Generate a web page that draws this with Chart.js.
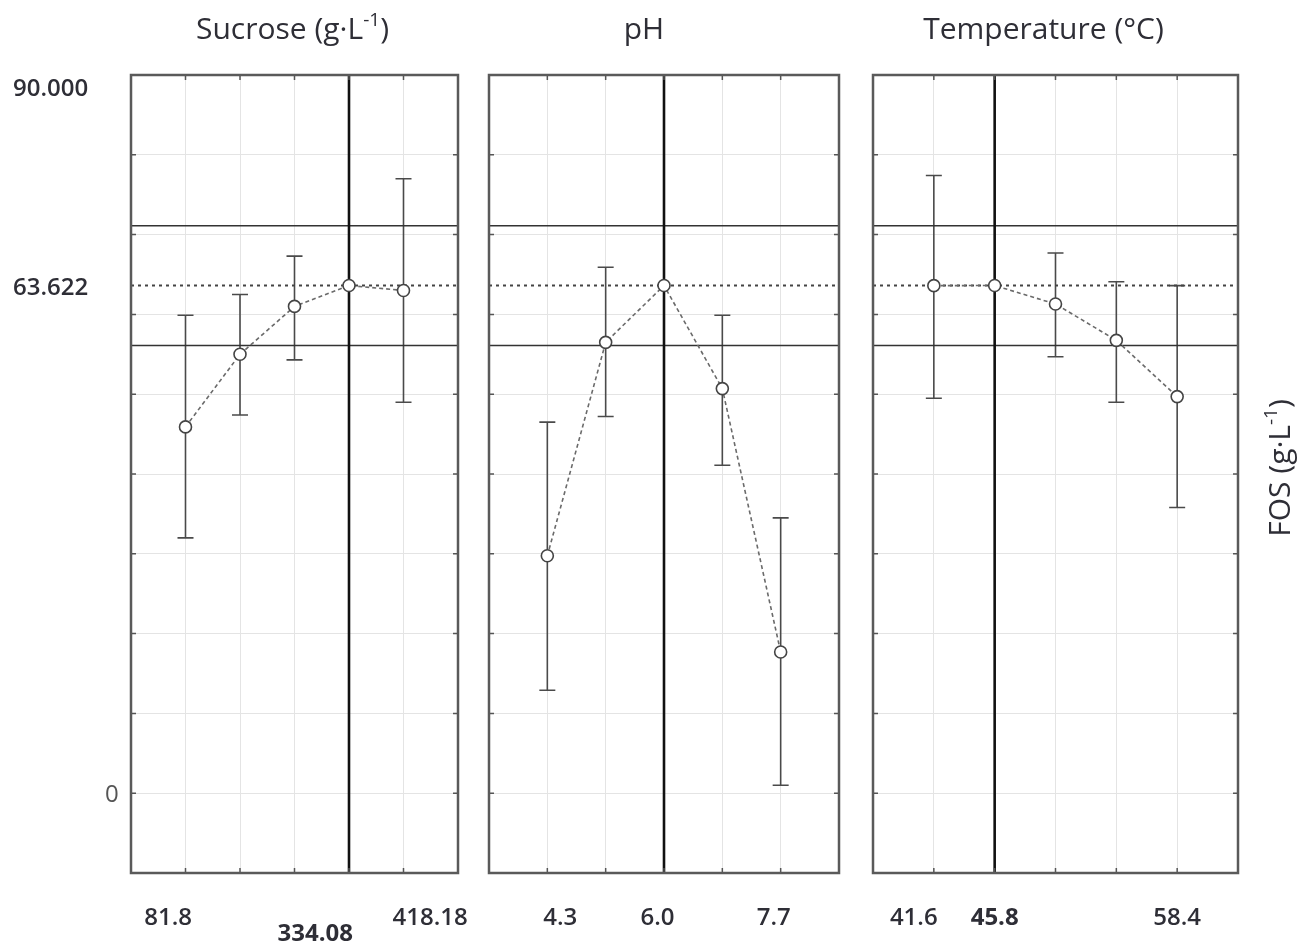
<!DOCTYPE html>
<html>
<head>
<meta charset="utf-8">
<script src="https://cdn.jsdelivr.net/npm/chart.js@4.4.1/dist/chart.umd.min.js"></script>
<style>
  body { margin: 0; background: #fff; }
  #wrap { position: relative; width: 1304px; height: 945px; }
  #wrap canvas { position: absolute; left: 0; top: 0; }
</style>
</head>
<body>
<div id="wrap">
  <canvas id="sucroseChart" width="1304" height="945"></canvas>
  <canvas id="phChart" width="1304" height="945"></canvas>
  <canvas id="tempChart" width="1304" height="945"></canvas>
</div>
<script>
// factor levels (5 per panel)
const levels = [1, 2, 3, 4, 5];

const sucroseMean = [45.9, 55.0, 61.0, 63.622, 63.0];
const sucroseLow = [32.0, 47.4, 54.3, null, 49.0];
const sucroseHigh = [59.9, 62.5, 67.3, null, 77.0];
const sucroseTicks = ['81.8', '334.08', '418.18'];
const sucroseTickAt = [0.68, 3.38, 5.49];
const sucroseTickBold = [false, true, false];
const sucroseOptimum = 4;

const phMean = [29.75, 56.5, 63.622, 50.7, 17.7];
const phLow = [12.9, 47.2, null, 41.1, 1.0];
const phHigh = [46.5, 65.9, null, 59.9, 34.5];
const phTicks = ['4.3', '6.0', '7.7'];
const phTickAt = [1.22, 2.89, 4.88];
const phTickBold = [false, false, false];
const phOptimum = 3;

const tempMean = [63.6, 63.622, 61.3, 56.75, 49.7];
const tempLow = [49.5, null, 54.7, 49.0, 35.8];
const tempHigh = [77.4, null, 67.7, 64.1, 63.6];
const tempTicks = ['41.6', '45.8', '58.4'];
const tempTickAt = [0.67, 2.0, 5.0];
const tempTickBold = [false, true, false];
const tempOptimum = 2;

// predicted optimum and its confidence band
const fosOptimum = 63.622;
const fosUpper = 71.1;
const fosLower = 56.1;
const yLabelValues = [90, 63.622, 0];
const yLabelText = ['90.000', '63.622', '0'];

// layout
const W = 1304, H = 945;
const plotTop = 75, plotBottom = 873;
const FONT = '"Open Sans", "DejaVu Sans", sans-serif';
const TEXT = '#2e2e36';

// draws "text^{sup}" with a small raised part
const drawRichText = (ctx, str, x, y, size, align) => {
  const parts = [];
  str.split(/(\^\{[^}]*\})/).forEach((p) => {
    if (!p) return;
    if (p.startsWith('^{')) parts.push({ t: p.slice(2, -1), sup: true });
    else parts.push({ t: p, sup: false });
  });
  const fontFor = (p) => `${p.sup ? Math.round(size * 0.62) : size}px ${FONT}`;
  let total = 0;
  parts.forEach((p) => {
    ctx.font = fontFor(p);
    p.w = ctx.measureText(p.t).width;
    total += p.w;
  });
  let cx = align === 'center' ? x - total / 2 : x;
  ctx.textAlign = 'left';
  ctx.textBaseline = 'middle';
  parts.forEach((p) => {
    ctx.font = fontFor(p);
    ctx.fillText(p.t, cx, p.sup ? y - size * 0.3 : y);
    cx += p.w;
  });
};

const makePanel = (canvasId, box, cfg) => {
  const decor = {
    id: 'panelDecor',
    beforeDatasetsDraw: (chart) => {
      // error bars
      const { ctx } = chart;
      const xs = chart.scales.x, ys = chart.scales.y;
      ctx.save();
      ctx.strokeStyle = '#4a4a4a';
      ctx.lineWidth = 1.6;
      levels.forEach((lv, i) => {
        if (cfg.low[i] == null) return;
        const x = xs.getPixelForValue(lv);
        const y1 = ys.getPixelForValue(cfg.low[i]);
        const y2 = ys.getPixelForValue(cfg.high[i]);
        ctx.beginPath();
        ctx.moveTo(x, y1); ctx.lineTo(x, y2);
        ctx.moveTo(x - 8, y1); ctx.lineTo(x + 8, y1);
        ctx.moveTo(x - 8, y2); ctx.lineTo(x + 8, y2);
        ctx.stroke();
      });
      ctx.restore();
    },
    afterDatasetsDraw: (chart) => {
      const { ctx, chartArea: a } = chart;
      const xs = chart.scales.x, ys = chart.scales.y;
      ctx.save();
      ctx.strokeStyle = '#555';
      ctx.lineWidth = 1.5;
      ctx.beginPath();
      for (let v = 1; v < 6; v++) {
        const x = xs.getPixelForValue(v);
        ctx.moveTo(x, a.top); ctx.lineTo(x, a.top + 5);
        ctx.moveTo(x, a.bottom); ctx.lineTo(x, a.bottom - 5);
      }
      for (let v = 0; v < 90; v += 10) {
        const y = ys.getPixelForValue(v);
        ctx.moveTo(a.left, y); ctx.lineTo(a.left + 5, y);
        ctx.moveTo(a.right, y); ctx.lineTo(a.right - 5, y);
      }
      ctx.stroke();
      ctx.lineWidth = 2.5;
      ctx.strokeStyle = '#5a5a5a';
      ctx.strokeRect(a.left, a.top, a.right - a.left, a.bottom - a.top);
      ctx.restore();
    },
    afterDraw: (chart) => {
      const { ctx, chartArea: a } = chart;
      const xs = chart.scales.x, ys = chart.scales.y;
      ctx.save();
      ctx.fillStyle = TEXT;
      drawRichText(ctx, cfg.title, (a.left + a.right) / 2 + cfg.titleShift, 30, 30, 'center');
      ctx.textAlign = 'center';
      ctx.textBaseline = 'middle';
      cfg.ticks.forEach((t, i) => {
        ctx.font = `${cfg.tickBold[i] ? '700' : '600'} 24px ${FONT}`;
        ctx.fillText(t, xs.getPixelForValue(cfg.tickAt[i]), cfg.tickBold[i] && cfg.dropBold ? 934 : 918);
      });
      if (cfg.yLabels) {
        const left = [13, 13, 105];
        const shift = [14, 3, 2];
        ctx.textAlign = 'left';
        yLabelValues.forEach((v, i) => {
          ctx.font = `${v === 0 ? '400' : '600'} 24px ${FONT}`;
          ctx.fillStyle = v === 0 ? '#555' : TEXT;
          ctx.fillText(yLabelText[i], left[i], ys.getPixelForValue(v) + shift[i]);
        });
      }
      if (cfg.rightTitle) {
        ctx.fillStyle = TEXT;
        ctx.translate(1281, 468);
        ctx.rotate(-Math.PI / 2);
        drawRichText(ctx, cfg.rightTitle, 0, 0, 30, 'center');
      }
      ctx.restore();
    },
  };

  const flat = (y) => [{ x: 0, y }, { x: 6, y }];
  new Chart(document.getElementById(canvasId).getContext('2d'), {
    type: 'line',
    data: {
      datasets: [
        {
          data: levels.map((x, i) => ({ x, y: cfg.mean[i] })),
          borderColor: '#6a6a6a',
          borderWidth: 1.6,
          borderDash: [4, 3],
          pointRadius: 6,
          pointBorderColor: '#444',
          pointBackgroundColor: '#fff',
          pointBorderWidth: 1.6,
          order: 0,
        },
        {
          data: [{ x: cfg.optimum, y: -10 }, { x: cfg.optimum, y: 90 }],
          borderColor: '#111',
          borderWidth: 2.6,
          pointRadius: 0,
          order: 1,
        },
        { data: flat(fosUpper), borderColor: '#333', borderWidth: 1.5, pointRadius: 0, order: 2 },
        { data: flat(fosLower), borderColor: '#333', borderWidth: 1.5, pointRadius: 0, order: 2 },
        {
          data: flat(fosOptimum),
          borderColor: '#444',
          borderWidth: 2,
          borderDash: [3, 4],
          pointRadius: 0,
          order: 3,
        },
      ],
    },
    options: {
      responsive: false,
      animation: false,
      events: [],
      layout: { padding: { left: box.left, right: W - box.right, top: plotTop, bottom: H - plotBottom } },
      plugins: { legend: { display: false }, tooltip: { enabled: false } },
      scales: {
        x: {
          type: 'linear',
          min: 0,
          max: 6,
          afterFit: (s) => { s.height = 0; },
          ticks: { display: false, stepSize: 1 },
          grid: { color: '#e4e4e4', lineWidth: 1, drawTicks: false },
          border: { display: false },
        },
        y: {
          min: -10,
          max: 90,
          afterFit: (s) => { s.width = 0; },
          ticks: { display: false, stepSize: 10 },
          grid: { color: '#e4e4e4', lineWidth: 1, drawTicks: false },
          border: { display: false },
        },
      },
    },
    plugins: [decor],
  });
};

makePanel('sucroseChart', { left: 131, right: 458 }, {
  title: 'Sucrose (g·L^{-1})', titleShift: -2,
  mean: sucroseMean, low: sucroseLow, high: sucroseHigh,
  ticks: sucroseTicks, tickAt: sucroseTickAt, tickBold: sucroseTickBold, dropBold: true,
  optimum: sucroseOptimum, yLabels: true,
});
makePanel('phChart', { left: 489, right: 839 }, {
  title: 'pH', titleShift: -20,
  mean: phMean, low: phLow, high: phHigh,
  ticks: phTicks, tickAt: phTickAt, tickBold: phTickBold,
  optimum: phOptimum,
});
makePanel('tempChart', { left: 873, right: 1238 }, {
  title: 'Temperature (°C)', titleShift: -12,
  mean: tempMean, low: tempLow, high: tempHigh,
  ticks: tempTicks, tickAt: tempTickAt, tickBold: tempTickBold,
  optimum: tempOptimum, rightTitle: 'FOS (g·L^{-1})',
});
</script>
</body>
</html>
